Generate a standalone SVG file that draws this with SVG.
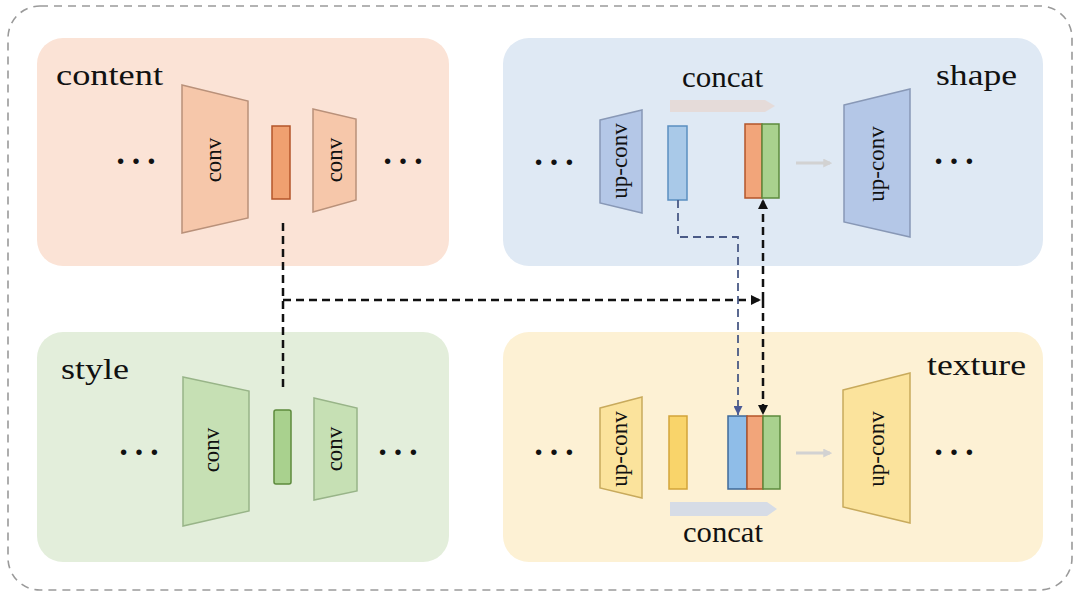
<svg xmlns="http://www.w3.org/2000/svg" width="1080" height="598" viewBox="0 0 1080 598">
<defs>
<style>
.title{font-family:"Liberation Serif","Times New Roman",serif;font-size:29px;fill:#111;}
.lbl{font-family:"Liberation Serif","Times New Roman",serif;font-size:23px;fill:#111;text-anchor:middle;}
.dots{font-family:"Liberation Serif","Times New Roman",serif;font-size:46px;fill:#111;}
.dash{fill:none;stroke:#111;stroke-width:2.5;stroke-dasharray:8 5;}
.bdash{fill:none;stroke:#4a5a86;stroke-width:1.8;stroke-dasharray:8 5;}
</style>
<marker id="ah" viewBox="0 0 8 8" refX="8" refY="4" markerWidth="4" markerHeight="4" orient="auto" markerUnits="strokeWidth">
<path d="M0,0 L8,4 L0,8 z" fill="#111"/>
</marker>
<marker id="ahb" viewBox="0 0 8 8" refX="8" refY="4" markerWidth="5" markerHeight="5" orient="auto" markerUnits="strokeWidth">
<path d="M0,0 L8,4 L0,8 z" fill="#4a5a96"/>
</marker>
<marker id="gah" viewBox="0 0 8 8" refX="6" refY="4" markerWidth="3" markerHeight="3" orient="auto" markerUnits="strokeWidth">
<path d="M0,0 L8,4 L0,8 z" fill="#d2d2d2"/>
</marker>
</defs>
<rect width="1080" height="598" fill="#ffffff"/>
<rect x="8" y="6" width="1064" height="584" rx="32" fill="none" stroke="#9a9a9a" stroke-width="1.6" stroke-dasharray="8 6"/>

<g id="content">
<rect x="37" y="38" width="412" height="228" rx="26" fill="#fbe3d6"/>
<text class="title" x="56" y="85" textLength="107" lengthAdjust="spacingAndGlyphs">content</text>
<text class="dots" x="113" y="164">…</text>
<polygon points="182,85 248,101 248,218 182,233" fill="#f6c7aa" stroke="#b9917a" stroke-width="1.5"/>
<text class="lbl" transform="translate(221,160) rotate(-90)">conv</text>
<rect x="272" y="126" width="18" height="73" fill="#f0a070" stroke="#b4552a" stroke-width="1.5"/>
<polygon points="313,109 356,119 356,200 313,212" fill="#f6c7aa" stroke="#b9917a" stroke-width="1.5"/>
<text class="lbl" transform="translate(342,160) rotate(-90)">conv</text>
<text class="dots" x="380" y="164">…</text>
</g>

<g id="style">
<rect x="37" y="332" width="412" height="230" rx="26" fill="#e3eedb"/>
<text class="title" x="61" y="379" textLength="68" lengthAdjust="spacingAndGlyphs">style</text>
<text class="dots" x="116" y="455">…</text>
<polygon points="183,377 249,391 249,511 183,526" fill="#c6e0b4" stroke="#98b488" stroke-width="1.5"/>
<text class="lbl" transform="translate(219,450) rotate(-90)">conv</text>
<rect x="274" y="410" width="17" height="74" rx="2" fill="#a9d18e" stroke="#5d8a3c" stroke-width="1.5"/>
<polygon points="314,398 357,408 357,491 314,500" fill="#c6e0b4" stroke="#98b488" stroke-width="1.5"/>
<text class="lbl" transform="translate(342,449) rotate(-90)">conv</text>
<text class="dots" x="375" y="455">…</text>
</g>

<g id="shape">
<rect x="503" y="38" width="540" height="228" rx="26" fill="#dfe9f4"/>
<text class="title" x="936" y="85" textLength="81" lengthAdjust="spacingAndGlyphs">shape</text>
<text class="title" x="682" y="87" textLength="81" lengthAdjust="spacingAndGlyphs">concat</text>
<polygon points="670,100 765,100 775,106 765,112 670,112" fill="#e6d9d6" opacity="0.9"/>
<text class="dots" x="531" y="165">…</text>
<polygon points="600,120 642,110 642,213 600,203" fill="#b4c7e7" stroke="#8898b6" stroke-width="1.5"/>
<text class="lbl" transform="translate(627,161) rotate(-90)">up-conv</text>
<rect x="668" y="126" width="19" height="74" fill="#a9c9e8" stroke="#5b8fc0" stroke-width="1.5"/>
<rect x="745" y="124" width="17" height="74" fill="#f2a57a" stroke="#b4552a" stroke-width="1.5"/>
<rect x="762" y="124" width="17" height="74" fill="#a9d18e" stroke="#5d8a3c" stroke-width="1.5"/>
<line x1="796" y1="163" x2="830" y2="163" stroke="#d2d2d2" stroke-width="3" marker-end="url(#gah)"/>
<polygon points="844,105 910,89 910,237 844,222" fill="#b4c7e7" stroke="#8898b6" stroke-width="1.5"/>
<text class="lbl" transform="translate(884,164) rotate(-90)">up-conv</text>
<text class="dots" x="931" y="164">…</text>
</g>

<g id="texture">
<rect x="503" y="332" width="540" height="230" rx="26" fill="#fdf1d4"/>
<text class="title" x="927" y="375" textLength="99" lengthAdjust="spacingAndGlyphs">texture</text>
<text class="dots" x="531" y="455">…</text>
<polygon points="600,408 642,397 642,498 600,488" fill="#fbe39c" stroke="#c8aa5c" stroke-width="1.5"/>
<text class="lbl" transform="translate(627,449) rotate(-90)">up-conv</text>
<rect x="669" y="416" width="18" height="73" fill="#f9d46a" stroke="#d2a43a" stroke-width="1.5"/>
<rect x="728" y="416" width="19" height="73" fill="#8fbde8" stroke="#3f6a99" stroke-width="1.5"/>
<rect x="747" y="416" width="16" height="73" fill="#f2a57a" stroke="#b4552a" stroke-width="1.5"/>
<rect x="763" y="416" width="17" height="73" fill="#a9d18e" stroke="#5d8a3c" stroke-width="1.5"/>
<polygon points="670,502 767,502 777,509 767,516 670,516" fill="#d6dce6"/>
<text class="title" x="683" y="542" textLength="80" lengthAdjust="spacingAndGlyphs">concat</text>
<line x1="796" y1="453" x2="830" y2="453" stroke="#d2d2d2" stroke-width="3" marker-end="url(#gah)"/>
<polygon points="843,390 910,373 910,523 843,507" fill="#fbe39c" stroke="#c8aa5c" stroke-width="1.5"/>
<text class="lbl" transform="translate(884,449) rotate(-90)">up-conv</text>
<text class="dots" x="931" y="455">…</text>
</g>

<g id="connectors">
<path class="dash" d="M283,223 V390"/>
<path class="dash" d="M283,300 H761" marker-end="url(#ah)"/>
<path class="dash" d="M763,300 V199" marker-end="url(#ah)"/>
<path class="dash" d="M763,300 V415" marker-end="url(#ah)"/>
<path class="bdash" d="M678,200 V237 H738 V415" marker-end="url(#ahb)"/>
</g>
</svg>
